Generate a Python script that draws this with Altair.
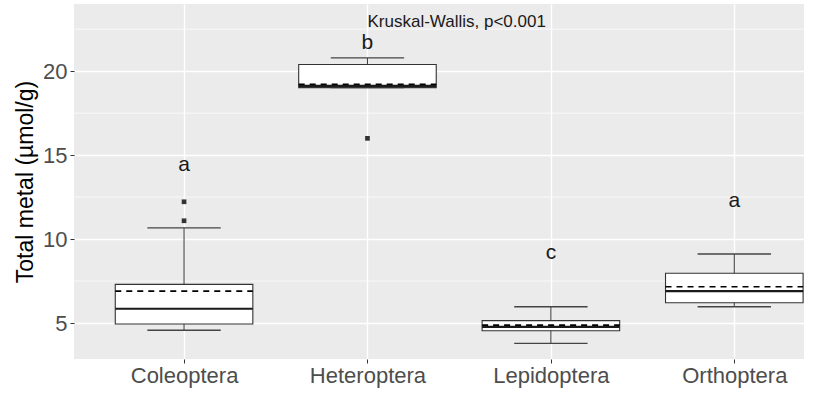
import altair as alt
import pandas as pd

# Box statistics per insect order (Total metal, µmol/g)
categories = ["Coleoptera", "Heteroptera", "Lepidoptera", "Orthoptera"]
whisker_low = [4.57, 19.02, 3.79, 5.97]
q1 = [4.94, 19.02, 4.54, 6.21]
median = [5.85, 19.12, 4.77, 6.90]
mean = [6.90, 19.22, 4.87, 7.16]
q3 = [7.30, 20.40, 5.14, 7.96]
whisker_high = [10.67, 20.79, 5.97, 9.11]

# Outlying observations
outlier_group = ["Coleoptera", "Coleoptera", "Heteroptera"]
outlier_value = [12.22, 11.09, 16.0]

# Post-hoc group letters
letters = ["a", "b", "c", "a"]
letter_y = [14.4, 21.65, 9.18, 12.28]

minor_grid = [7.5, 12.5, 17.5, 22.5]
test_label = "Kruskal-Wallis, p<0.001"
test_y = 22.93

FONT = "Liberation Sans"
BOX_HALF = 0.375
CAP_HALF = 0.2

pos = {c: i + 1 for i, c in enumerate(categories)}

stats = pd.DataFrame({
    "group": categories,
    "idx": [pos[c] for c in categories],
    "wlo": whisker_low,
    "q1": q1,
    "median": median,
    "mean": mean,
    "q3": q3,
    "whi": whisker_high,
    "letter": letters,
    "letter_y": letter_y,
})
outliers = pd.DataFrame({
    "idx": [pos[g] for g in outlier_group],
    "value": outlier_value,
})
grid_df = pd.DataFrame({"y": minor_grid})
note_df = pd.DataFrame({"idx": [pos["Heteroptera"]], "y": [test_y], "label": [test_label]})

label_js = "[" + ",".join("'" + c + "'" for c in categories) + "]"

xscale = alt.Scale(domain=[0.4, 4.38], nice=False, zero=False)
yscale = alt.Scale(domain=[2.857, 24.0], nice=False, zero=False)

x_axis = alt.Axis(
    values=[1, 2, 3, 4],
    labelExpr=label_js + "[datum.value - 1]",
    title=None,
    grid=True, gridColor="white", gridWidth=1.4,
    domain=False,
    ticks=True, tickColor="#333333", tickSize=4, tickWidth=1,
    labelFont=FONT, labelFontSize=22, labelColor="#4D4D4D",
    labelPadding=2,
)
y_axis = alt.Axis(
    values=[5, 10, 15, 20],
    title="Total metal (µmol/g)",
    titleFont=FONT, titleFontSize=23, titleColor="black", titleFontWeight="normal",
    titlePadding=5,
    grid=True, gridColor="white", gridWidth=1.4,
    domain=False,
    ticks=True, tickColor="#333333", tickSize=4, tickWidth=1,
    labelFont=FONT, labelFontSize=22, labelColor="#4D4D4D",
    labelPadding=3,
)

base = alt.Chart(stats)

minor = alt.Chart(grid_df).mark_rule(color="white", strokeWidth=0.7).encode(
    y=alt.Y("y:Q", scale=yscale, axis=y_axis)
)

whisker = base.mark_rule(color="#444444", strokeWidth=1.1).encode(
    x=alt.X("idx:Q", scale=xscale, axis=x_axis),
    y="wlo:Q", y2="whi:Q",
)

caps_hi = base.transform_calculate(
    xa=f"datum.idx - {CAP_HALF}", xb=f"datum.idx + {CAP_HALF}"
).mark_rule(color="#444444", strokeWidth=1.3).encode(
    x="xa:Q", x2="xb:Q", y="whi:Q"
)
caps_lo = base.transform_calculate(
    xa=f"datum.idx - {CAP_HALF}", xb=f"datum.idx + {CAP_HALF}"
).mark_rule(color="#444444", strokeWidth=1.3).encode(
    x="xa:Q", x2="xb:Q", y="wlo:Q"
)

box = base.transform_calculate(
    xa=f"datum.idx - {BOX_HALF}", xb=f"datum.idx + {BOX_HALF}"
).mark_rect(fill="white", stroke="#333333", strokeWidth=1.1).encode(
    x="xa:Q", x2="xb:Q", y="q1:Q", y2="q3:Q"
)

med = base.transform_calculate(
    xa=f"datum.idx - {BOX_HALF}", xb=f"datum.idx + {BOX_HALF}"
).mark_rule(color="#1a1a1a", strokeWidth=2.2).encode(
    x="xa:Q", x2="xb:Q", y="median:Q"
)

avg = base.transform_calculate(
    xa=f"datum.idx - {BOX_HALF}", xb=f"datum.idx + {BOX_HALF}"
).mark_rule(color="black", strokeWidth=1.7, strokeDash=[6, 5]).encode(
    x="xa:Q", x2="xb:Q", y="mean:Q"
)

pts = alt.Chart(outliers).mark_point(
    shape="square", filled=True, color="#333333", size=22, opacity=1
).encode(x="idx:Q", y="value:Q")

lbl = base.mark_text(font=FONT, fontSize=21, color="#1a1a1a", baseline="middle").encode(
    x="idx:Q", y="letter_y:Q", text="letter:N"
)

note = alt.Chart(note_df).mark_text(
    font=FONT, fontSize=17, color="#1a1a1a", align="left", baseline="middle"
).encode(x="idx:Q", y="y:Q", text="label:N")

chart = alt.layer(
    minor, whisker, caps_hi, caps_lo, box, med, avg, pts, lbl, note
).properties(
    width=730, height=355,
    autosize=alt.AutoSizeParams(type="none"),
    padding={"left": 74, "top": 4, "right": 28, "bottom": 36},
    background="white",
).configure_view(
    fill="#EBEBEB", stroke=None
)

chart.save("out.html", embed_options={"renderer": "svg", "actions": False})
